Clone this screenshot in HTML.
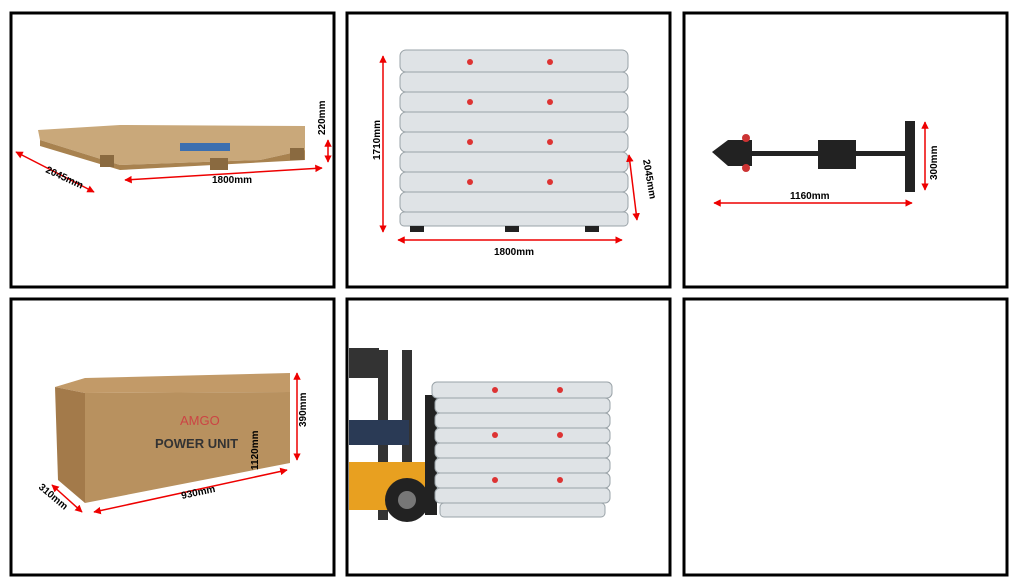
<!DOCTYPE html>
<html><head><meta charset="utf-8"><style>
html,body{margin:0;padding:0;background:#fff;width:1023px;height:586px;overflow:hidden}
svg{display:block}
text{font-family:"Liberation Sans",sans-serif;font-weight:bold;font-size:10px;fill:#000}
</style></head><body>
<svg width="1023" height="586" viewBox="0 0 1023 586">
<defs><marker id="a" viewBox="0 0 10 10" refX="9" refY="5" markerWidth="5" markerHeight="5" orient="auto-start-reverse"><path d="M0,0L10,5L0,10z" fill="#e00"/></marker></defs>
<g fill="none" stroke="#000" stroke-width="3">
<rect x="11" y="13" width="323" height="274"/><rect x="347" y="13" width="323" height="274"/><rect x="684" y="13" width="323" height="274"/>
<rect x="11" y="299" width="323" height="276"/><rect x="347" y="299" width="323" height="276"/><rect x="684" y="299" width="323" height="276"/>
</g>
<!-- panel1 pallet -->
<polygon points="38,130 120,125 305,126 305,150 260,160 120,165 40,140" fill="#c9a87a"/>
<polygon points="40,140 120,165 260,160 305,150 305,160 120,170 40,146" fill="#a8824f"/>
<rect x="180" y="143" width="50" height="8" fill="#3b6fb0"/>
<rect x="100" y="155" width="14" height="12" fill="#8a6a40"/><rect x="210" y="158" width="18" height="12" fill="#8a6a40"/><rect x="290" y="148" width="14" height="12" fill="#8a6a40"/>
<g stroke="#e00" stroke-width="1.5" fill="none">
<line x1="16" y1="152" x2="94" y2="192" marker-start="url(#a)" marker-end="url(#a)"/>
<line x1="125" y1="180" x2="322" y2="168" marker-start="url(#a)" marker-end="url(#a)"/>
<line x1="328" y1="140" x2="328" y2="162" marker-start="url(#a)" marker-end="url(#a)"/>
</g>
<text x="45" y="172" transform="rotate(25 45 172)">2045mm</text>
<text x="212" y="183">1800mm</text>
<text x="325" y="135" transform="rotate(-90 325 135)">220mm</text>
<!-- panel2 stack -->
<g fill="#dfe3e6" stroke="#9aa3a8" stroke-width="1">
<rect x="400" y="50" width="228" height="22" rx="6"/><rect x="400" y="72" width="228" height="20" rx="6"/><rect x="400" y="92" width="228" height="20" rx="6"/><rect x="400" y="112" width="228" height="20" rx="6"/><rect x="400" y="132" width="228" height="20" rx="6"/><rect x="400" y="152" width="228" height="20" rx="6"/><rect x="400" y="172" width="228" height="20" rx="6"/><rect x="400" y="192" width="228" height="20" rx="6"/><rect x="400" y="212" width="228" height="14" rx="4"/>
</g>
<g fill="#d33"><circle cx="470" cy="62" r="3"/><circle cx="550" cy="62" r="3"/><circle cx="470" cy="102" r="3"/><circle cx="550" cy="102" r="3"/><circle cx="470" cy="142" r="3"/><circle cx="550" cy="142" r="3"/><circle cx="470" cy="182" r="3"/><circle cx="550" cy="182" r="3"/></g>
<rect x="410" y="226" width="14" height="6" fill="#222"/><rect x="505" y="226" width="14" height="6" fill="#222"/><rect x="585" y="226" width="14" height="6" fill="#222"/>
<g stroke="#e00" stroke-width="1.5" fill="none">
<line x1="383" y1="56" x2="383" y2="232" marker-start="url(#a)" marker-end="url(#a)"/>
<line x1="398" y1="240" x2="622" y2="240" marker-start="url(#a)" marker-end="url(#a)"/>
<line x1="629" y1="155" x2="637" y2="220" marker-start="url(#a)" marker-end="url(#a)"/>
</g>
<text x="380" y="160" transform="rotate(-90 380 160)">1710mm</text>
<text x="494" y="255">1800mm</text>
<text x="643" y="160" transform="rotate(80 643 160)">2045mm</text>
<!-- panel3 handle -->
<polygon points="712,152 728,140 752,140 752,166 728,166" fill="#222"/>
<circle cx="746" cy="138" r="4" fill="#c33"/><circle cx="746" cy="168" r="4" fill="#c33"/>
<rect x="750" y="151" width="160" height="5" fill="#222"/>
<rect x="818" y="140" width="38" height="29" fill="#222"/>
<rect x="905" y="121" width="10" height="71" fill="#222"/>
<g stroke="#e00" stroke-width="1.5" fill="none">
<line x1="714" y1="203" x2="912" y2="203" marker-start="url(#a)" marker-end="url(#a)"/>
<line x1="925" y1="122" x2="925" y2="190" marker-start="url(#a)" marker-end="url(#a)"/>
</g>
<text x="790" y="199">1160mm</text>
<text x="937" y="180" transform="rotate(-90 937 180)">300mm</text>
<!-- panel4 box -->
<polygon points="55,387 85,378 290,373 290,392 85,393" fill="#c29a68"/>
<polygon points="55,387 85,393 85,503 58,480" fill="#a37a4a"/>
<polygon points="85,393 290,392 290,463 85,503" fill="#b8915f"/>
<text x="180" y="425" style="font-size:13px;fill:#c44;font-weight:normal">AMGO</text>
<text x="155" y="448" style="font-size:13px;fill:#333">POWER UNIT</text>
<text x="258" y="470" transform="rotate(-90 258 470)">1120mm</text>
<g stroke="#e00" stroke-width="1.5" fill="none">
<line x1="52" y1="485" x2="82" y2="512" marker-start="url(#a)" marker-end="url(#a)"/>
<line x1="94" y1="512" x2="287" y2="470" marker-start="url(#a)" marker-end="url(#a)"/>
<line x1="297" y1="373" x2="297" y2="460" marker-start="url(#a)" marker-end="url(#a)"/>
</g>
<text x="38" y="488" transform="rotate(40 38 488)">310mm</text>
<text x="182" y="499" transform="rotate(-12 182 499)">930mm</text>
<text x="306" y="427" transform="rotate(-90 306 427)">390mm</text>
<!-- panel5 forklift -->
<rect x="349" y="348" width="30" height="30" fill="#333"/>
<rect x="378" y="350" width="10" height="170" fill="#333"/><rect x="402" y="350" width="10" height="170" fill="#333"/>
<rect x="349" y="420" width="60" height="25" fill="#2a3a55"/>
<rect x="349" y="462" width="85" height="48" fill="#e8a020"/>
<circle cx="407" cy="500" r="22" fill="#222"/><circle cx="407" cy="500" r="9" fill="#777"/>
<rect x="425" y="395" width="12" height="120" fill="#222"/>
<g fill="#dfe3e6" stroke="#9aa3a8" stroke-width="1">
<rect x="432" y="382" width="180" height="16" rx="5"/><rect x="435" y="398" width="175" height="15" rx="5"/><rect x="435" y="413" width="175" height="15" rx="5"/><rect x="435" y="428" width="175" height="15" rx="5"/><rect x="435" y="443" width="175" height="15" rx="5"/><rect x="435" y="458" width="175" height="15" rx="5"/><rect x="435" y="473" width="175" height="15" rx="5"/><rect x="435" y="488" width="175" height="15" rx="5"/><rect x="440" y="503" width="165" height="14" rx="4"/>
</g>
<g fill="#d33"><circle cx="495" cy="390" r="3"/><circle cx="560" cy="390" r="3"/><circle cx="495" cy="435" r="3"/><circle cx="560" cy="435" r="3"/><circle cx="495" cy="480" r="3"/><circle cx="560" cy="480" r="3"/></g>
</svg>
</body></html>
